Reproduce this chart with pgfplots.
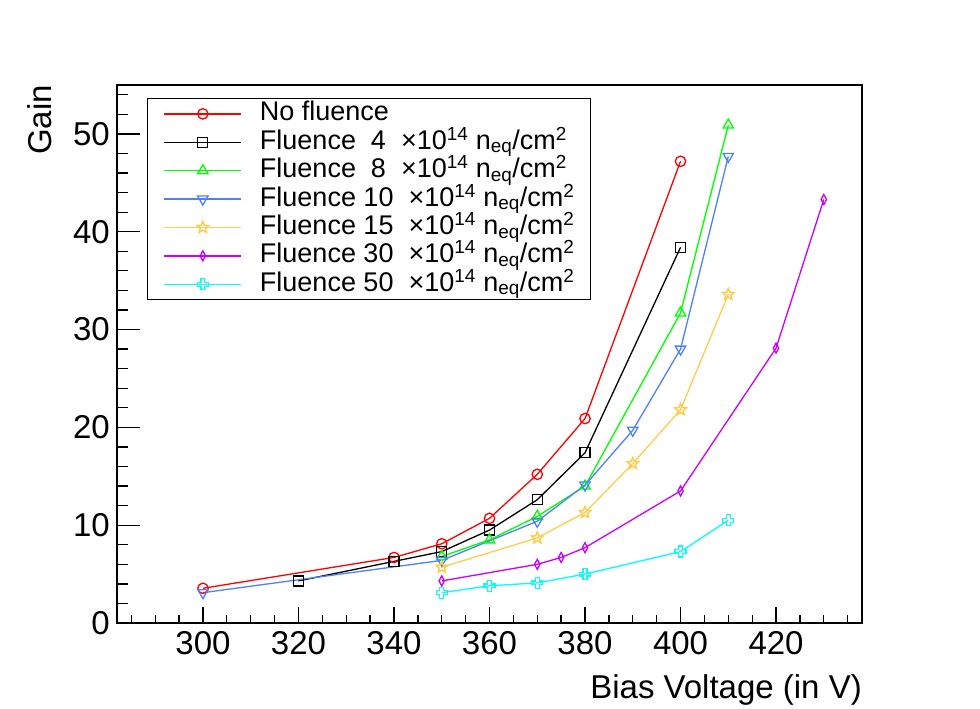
\documentclass[border=0pt]{standalone}
\usepackage{fontspec}
\setmainfont{Liberation Sans}
\usepackage{pgfplots}
\pgfplotsset{compat=1.18}
\usetikzlibrary{plotmarks}

\definecolor{cRed}{rgb}{1,0,0}
\definecolor{cGreen}{rgb}{0,1,0}
\definecolor{cBlue}{RGB}{77,128,255}
\definecolor{cOrange}{RGB}{255,204,77}
\definecolor{cPurple}{RGB}{200,0,255}
\definecolor{cCyan}{rgb}{0,1,1}

\pgfdeclareplotmark{ostar}{%
  \pgfpathmoveto{\pgfpointpolar{90}{\pgfplotmarksize}}%
  \pgfpathlineto{\pgfpointpolar{126}{0.45\pgfplotmarksize}}%
  \pgfpathlineto{\pgfpointpolar{162}{\pgfplotmarksize}}%
  \pgfpathlineto{\pgfpointpolar{198}{0.45\pgfplotmarksize}}%
  \pgfpathlineto{\pgfpointpolar{234}{\pgfplotmarksize}}%
  \pgfpathlineto{\pgfpointpolar{270}{0.45\pgfplotmarksize}}%
  \pgfpathlineto{\pgfpointpolar{306}{\pgfplotmarksize}}%
  \pgfpathlineto{\pgfpointpolar{342}{0.45\pgfplotmarksize}}%
  \pgfpathlineto{\pgfpointpolar{18}{\pgfplotmarksize}}%
  \pgfpathlineto{\pgfpointpolar{54}{0.45\pgfplotmarksize}}%
  \pgfpathclose
  \pgfusepathqstroke
}
\pgfdeclareplotmark{ocross}{%
  \pgfpathmoveto{\pgfpoint{-0.35\pgfplotmarksize}{\pgfplotmarksize}}%
  \pgfpathlineto{\pgfpoint{0.35\pgfplotmarksize}{\pgfplotmarksize}}%
  \pgfpathlineto{\pgfpoint{0.35\pgfplotmarksize}{0.35\pgfplotmarksize}}%
  \pgfpathlineto{\pgfpoint{\pgfplotmarksize}{0.35\pgfplotmarksize}}%
  \pgfpathlineto{\pgfpoint{\pgfplotmarksize}{-0.35\pgfplotmarksize}}%
  \pgfpathlineto{\pgfpoint{0.35\pgfplotmarksize}{-0.35\pgfplotmarksize}}%
  \pgfpathlineto{\pgfpoint{0.35\pgfplotmarksize}{-\pgfplotmarksize}}%
  \pgfpathlineto{\pgfpoint{-0.35\pgfplotmarksize}{-\pgfplotmarksize}}%
  \pgfpathlineto{\pgfpoint{-0.35\pgfplotmarksize}{-0.35\pgfplotmarksize}}%
  \pgfpathlineto{\pgfpoint{-\pgfplotmarksize}{-0.35\pgfplotmarksize}}%
  \pgfpathlineto{\pgfpoint{-\pgfplotmarksize}{0.35\pgfplotmarksize}}%
  \pgfpathlineto{\pgfpoint{-0.35\pgfplotmarksize}{0.35\pgfplotmarksize}}%
  \pgfpathclose
  \pgfusepathqstroke
}

\begin{document}
\begin{tikzpicture}
\path[use as bounding box] (0,0) rectangle (980pt,709pt);
\begin{axis}[
  at={(117pt,86pt)}, anchor=south west,
  scale only axis, width=745pt, height=538pt,
  xmin=282, xmax=438, ymin=0, ymax=55,
  axis line style={line width=1.5pt},
  tick align=inside,
  xtick pos=bottom,
  xtick={300,320,...,420},
  minor xtick={285,290,...,435},
  ytick=\empty,
  major tick length=16pt, minor tick length=8pt,
  every tick/.style={black, line width=1.3pt},
  /pgf/number format/assume math mode=true,
  /pgf/number format/1000 sep={},
  ticklabel style={font=\fontsize{33}{38}\selectfont},
  xticklabel style={inner sep=0pt, anchor=north, yshift=-8.7pt},
  xlabel={Bias Voltage (in V)},
  xlabel style={font=\fontsize{33}{38}\selectfont, at={(axis description cs:1,-0.1403)}, anchor=base east, inner sep=0pt},
  ylabel={Gain},
  ylabel style={font=\fontsize{33}{38}\selectfont, at={(axis description cs:-0.0877,1)}, anchor=base east, inner sep=0pt},
  legend image code/.code={\draw[mark repeat=2,mark phase=2,#1] plot coordinates {(0pt,0pt) (38.5pt,0pt) (77pt,0pt)};\path (95pt,0pt);},
  legend cell align=left,
  legend style={at={(0.0403,0.9758)}, anchor=north west, draw=black, line width=1.3pt,
    inner xsep=16pt, inner ysep=1pt, row sep=0pt,
    font=\fontsize{27}{30}\selectfont,
    nodes={inner xsep=0pt, inner ysep=0pt, text height=21.2pt, text depth=7.2pt}},
  every axis plot/.append style={line width=1.3pt},
]
\addplot[color=cRed, mark=o, mark size=5.2pt, mark options={line width=1.3pt}] coordinates {
  (300,3.55) (340,6.7) (350,8.1) (360,10.7) (370,15.2) (380,20.9) (400,47.2)};
\addlegendentry{No fluence}
\addplot[color=black, mark=square, mark size=5pt, mark options={line width=1.3pt}] coordinates {
  (320,4.3) (340,6.3) (350,7.3) (360,9.5) (370,12.6) (380,17.4) (400,38.4)};
\addlegendentry{Fluence\ \ 4\ \ ×10\textsuperscript{14} n\textsubscript{eq}/cm\textsuperscript{2}}
\addplot[color=cGreen, mark=triangle, mark size=6pt, mark options={line width=1.3pt}] coordinates {
  (350,6.8) (360,8.5) (370,10.9) (380,14.0) (400,31.7) (410,50.9)};
\addlegendentry{Fluence\ \ 8\ \ ×10\textsuperscript{14} n\textsubscript{eq}/cm\textsuperscript{2}}
\addplot[color=cBlue, mark=triangle, mark size=6pt, mark options={line width=1.3pt, rotate=180}] coordinates {
  (300,3.1) (350,6.4) (370,10.4) (380,14.1) (390,19.7) (400,28.0) (410,47.7)};
\addlegendentry{Fluence 10\ \ ×10\textsuperscript{14} n\textsubscript{eq}/cm\textsuperscript{2}}
\addplot[color=cOrange, mark=ostar, mark size=6pt, mark options={line width=1.5pt}] coordinates {
  (350,5.7) (370,8.7) (380,11.3) (390,16.3) (400,21.8) (410,33.6)};
\addlegendentry{Fluence 15\ \ ×10\textsuperscript{14} n\textsubscript{eq}/cm\textsuperscript{2}}
\addplot[color=cPurple, mark=diamond, mark size=5pt, mark options={line width=1.3pt, xscale=0.72}] coordinates {
  (350,4.3) (370,6.0) (375,6.7) (380,7.7) (400,13.5) (420,28.1) (430,43.3)};
\addlegendentry{Fluence 30\ \ ×10\textsuperscript{14} n\textsubscript{eq}/cm\textsuperscript{2}}
\addplot[color=cCyan, mark=ocross, mark size=5.5pt, mark options={line width=1.3pt}] coordinates {
  (350,3.1) (360,3.8) (370,4.1) (380,5.0) (400,7.3) (410,10.5)};
\addlegendentry{Fluence 50\ \ ×10\textsuperscript{14} n\textsubscript{eq}/cm\textsuperscript{2}}
\end{axis}
\begin{axis}[
  at={(117pt,86pt)}, anchor=south west,
  scale only axis, width=745pt, height=538pt,
  xmin=282, xmax=438, ymin=0, ymax=55,
  hide x axis,
  axis line style={line width=1.5pt},
  tick align=inside,
  ytick pos=left,
  ytick={0,10,...,50},
  minor ytick={2,4,...,54},
  major tick length=23pt, minor tick length=11.5pt,
  every tick/.style={black, line width=1.3pt},
  /pgf/number format/assume math mode=true,
  ticklabel style={font=\fontsize{33}{38}\selectfont},
  yticklabel style={inner sep=0pt, anchor=east, xshift=-7pt},
]
\end{axis}
\end{tikzpicture}
\end{document}
